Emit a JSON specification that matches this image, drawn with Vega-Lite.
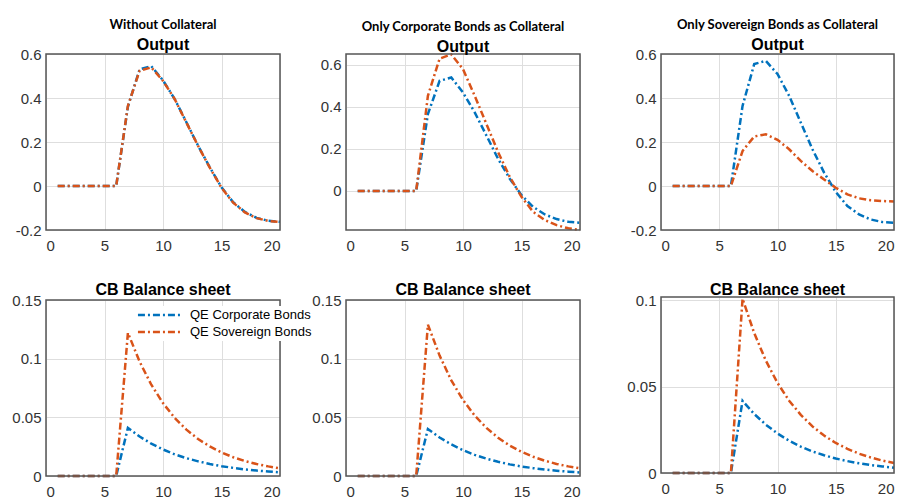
{
 "$schema": "https://vega.github.io/schema/vega-lite/v6.json",
 "background": "white",
 "padding": {"left": 10, "top": 19, "right": 0, "bottom": 0},
 "config": {
  "font": "Liberation Sans",
  "view": {"stroke": null},
  "axis": {"labelFont": "Liberation Sans", "labelFontSize": 15, "labelColor": "#333333", "ticks": false, "domain": false, "gridWidth": 1, "gridColor": "#dedede", "title": null},
  "axisX": {"labelPadding": 8},
  "axisY": {"labelPadding": 5},
  "title": {"font": "Liberation Sans", "fontSize": 16, "fontWeight": "bold", "color": "black", "anchor": "middle", "offset": -5, "subtitleFont": "Liberation Sans", "subtitleFontSize": 16, "subtitleFontWeight": "bold", "subtitleColor": "black"},
  "line": {"strokeWidth": 2.5, "strokeDash": [7, 3, 2, 3], "clip": true},
  "rect": {"filled": false, "stroke": "#555555", "strokeWidth": 1.5}
 },
 "datasets": {
  "frame": [{"k": 1}],
  "p1": [
   {"x":1,"s":"QE Corporate Bonds","y":0},{"x":2,"s":"QE Corporate Bonds","y":0},{"x":3,"s":"QE Corporate Bonds","y":0},{"x":4,"s":"QE Corporate Bonds","y":0},{"x":5,"s":"QE Corporate Bonds","y":0},{"x":6,"s":"QE Corporate Bonds","y":0},
   {"x":7,"s":"QE Corporate Bonds","y":0.36},{"x":8,"s":"QE Corporate Bonds","y":0.53},{"x":9,"s":"QE Corporate Bonds","y":0.545},{"x":10,"s":"QE Corporate Bonds","y":0.48},{"x":11,"s":"QE Corporate Bonds","y":0.395},{"x":12,"s":"QE Corporate Bonds","y":0.29},{"x":13,"s":"QE Corporate Bonds","y":0.183},{"x":14,"s":"QE Corporate Bonds","y":0.085},{"x":15,"s":"QE Corporate Bonds","y":-0.006},{"x":16,"s":"QE Corporate Bonds","y":-0.074},{"x":17,"s":"QE Corporate Bonds","y":-0.118},{"x":18,"s":"QE Corporate Bonds","y":-0.145},{"x":19,"s":"QE Corporate Bonds","y":-0.158},{"x":20,"s":"QE Corporate Bonds","y":-0.163},
   {"x":1,"s":"QE Sovereign Bonds","y":0},{"x":2,"s":"QE Sovereign Bonds","y":0},{"x":3,"s":"QE Sovereign Bonds","y":0},{"x":4,"s":"QE Sovereign Bonds","y":0},{"x":5,"s":"QE Sovereign Bonds","y":0},{"x":6,"s":"QE Sovereign Bonds","y":0},
   {"x":7,"s":"QE Sovereign Bonds","y":0.364},{"x":8,"s":"QE Sovereign Bonds","y":0.524},{"x":9,"s":"QE Sovereign Bonds","y":0.539},{"x":10,"s":"QE Sovereign Bonds","y":0.478},{"x":11,"s":"QE Sovereign Bonds","y":0.395},{"x":12,"s":"QE Sovereign Bonds","y":0.288},{"x":13,"s":"QE Sovereign Bonds","y":0.182},{"x":14,"s":"QE Sovereign Bonds","y":0.083},{"x":15,"s":"QE Sovereign Bonds","y":-0.008},{"x":16,"s":"QE Sovereign Bonds","y":-0.076},{"x":17,"s":"QE Sovereign Bonds","y":-0.12},{"x":18,"s":"QE Sovereign Bonds","y":-0.146},{"x":19,"s":"QE Sovereign Bonds","y":-0.159},{"x":20,"s":"QE Sovereign Bonds","y":-0.164}
  ],
  "p2": [
   {"x":1,"s":"QE Corporate Bonds","y":0},{"x":2,"s":"QE Corporate Bonds","y":0},{"x":3,"s":"QE Corporate Bonds","y":0},{"x":4,"s":"QE Corporate Bonds","y":0},{"x":5,"s":"QE Corporate Bonds","y":0},{"x":6,"s":"QE Corporate Bonds","y":0},
   {"x":7,"s":"QE Corporate Bonds","y":0.366},{"x":8,"s":"QE Corporate Bonds","y":0.524},{"x":9,"s":"QE Corporate Bonds","y":0.54},{"x":10,"s":"QE Corporate Bonds","y":0.469},{"x":11,"s":"QE Corporate Bonds","y":0.374},{"x":12,"s":"QE Corporate Bonds","y":0.264},{"x":13,"s":"QE Corporate Bonds","y":0.153},{"x":14,"s":"QE Corporate Bonds","y":0.058},{"x":15,"s":"QE Corporate Bonds","y":-0.02},{"x":16,"s":"QE Corporate Bonds","y":-0.076},{"x":17,"s":"QE Corporate Bonds","y":-0.112},{"x":18,"s":"QE Corporate Bonds","y":-0.134},{"x":19,"s":"QE Corporate Bonds","y":-0.147},{"x":20,"s":"QE Corporate Bonds","y":-0.152},
   {"x":1,"s":"QE Sovereign Bonds","y":0},{"x":2,"s":"QE Sovereign Bonds","y":0},{"x":3,"s":"QE Sovereign Bonds","y":0},{"x":4,"s":"QE Sovereign Bonds","y":0},{"x":5,"s":"QE Sovereign Bonds","y":0},{"x":6,"s":"QE Sovereign Bonds","y":0},
   {"x":7,"s":"QE Sovereign Bonds","y":0.453},{"x":8,"s":"QE Sovereign Bonds","y":0.63},{"x":9,"s":"QE Sovereign Bonds","y":0.65},{"x":10,"s":"QE Sovereign Bonds","y":0.58},{"x":11,"s":"QE Sovereign Bonds","y":0.453},{"x":12,"s":"QE Sovereign Bonds","y":0.319},{"x":13,"s":"QE Sovereign Bonds","y":0.185},{"x":14,"s":"QE Sovereign Bonds","y":0.066},{"x":15,"s":"QE Sovereign Bonds","y":-0.028},{"x":16,"s":"QE Sovereign Bonds","y":-0.1},{"x":17,"s":"QE Sovereign Bonds","y":-0.139},{"x":18,"s":"QE Sovereign Bonds","y":-0.163},{"x":19,"s":"QE Sovereign Bonds","y":-0.178},{"x":20,"s":"QE Sovereign Bonds","y":-0.186}
  ],
  "p3": [
   {"x":1,"s":"QE Corporate Bonds","y":0},{"x":2,"s":"QE Corporate Bonds","y":0},{"x":3,"s":"QE Corporate Bonds","y":0},{"x":4,"s":"QE Corporate Bonds","y":0},{"x":5,"s":"QE Corporate Bonds","y":0},{"x":6,"s":"QE Corporate Bonds","y":0},
   {"x":7,"s":"QE Corporate Bonds","y":0.364},{"x":8,"s":"QE Corporate Bonds","y":0.554},{"x":9,"s":"QE Corporate Bonds","y":0.569},{"x":10,"s":"QE Corporate Bonds","y":0.509},{"x":11,"s":"QE Corporate Bonds","y":0.41},{"x":12,"s":"QE Corporate Bonds","y":0.288},{"x":13,"s":"QE Corporate Bonds","y":0.167},{"x":14,"s":"QE Corporate Bonds","y":0.061},{"x":15,"s":"QE Corporate Bonds","y":-0.027},{"x":16,"s":"QE Corporate Bonds","y":-0.091},{"x":17,"s":"QE Corporate Bonds","y":-0.129},{"x":18,"s":"QE Corporate Bonds","y":-0.152},{"x":19,"s":"QE Corporate Bonds","y":-0.164},{"x":20,"s":"QE Corporate Bonds","y":-0.167},
   {"x":1,"s":"QE Sovereign Bonds","y":0},{"x":2,"s":"QE Sovereign Bonds","y":0},{"x":3,"s":"QE Sovereign Bonds","y":0},{"x":4,"s":"QE Sovereign Bonds","y":0},{"x":5,"s":"QE Sovereign Bonds","y":0},{"x":6,"s":"QE Sovereign Bonds","y":0},
   {"x":7,"s":"QE Sovereign Bonds","y":0.159},{"x":8,"s":"QE Sovereign Bonds","y":0.225},{"x":9,"s":"QE Sovereign Bonds","y":0.235},{"x":10,"s":"QE Sovereign Bonds","y":0.21},{"x":11,"s":"QE Sovereign Bonds","y":0.167},{"x":12,"s":"QE Sovereign Bonds","y":0.114},{"x":13,"s":"QE Sovereign Bonds","y":0.068},{"x":14,"s":"QE Sovereign Bonds","y":0.03},{"x":15,"s":"QE Sovereign Bonds","y":-0.008},{"x":16,"s":"QE Sovereign Bonds","y":-0.038},{"x":17,"s":"QE Sovereign Bonds","y":-0.056},{"x":18,"s":"QE Sovereign Bonds","y":-0.065},{"x":19,"s":"QE Sovereign Bonds","y":-0.068},{"x":20,"s":"QE Sovereign Bonds","y":-0.071}
  ],
  "p4": [
   {"x":1,"s":"QE Corporate Bonds","y":0},{"x":2,"s":"QE Corporate Bonds","y":0},{"x":3,"s":"QE Corporate Bonds","y":0},{"x":4,"s":"QE Corporate Bonds","y":0},{"x":5,"s":"QE Corporate Bonds","y":0},{"x":6,"s":"QE Corporate Bonds","y":0},
   {"x":7,"s":"QE Corporate Bonds","y":0.041},{"x":8,"s":"QE Corporate Bonds","y":0.0336},{"x":9,"s":"QE Corporate Bonds","y":0.0276},{"x":10,"s":"QE Corporate Bonds","y":0.0226},{"x":11,"s":"QE Corporate Bonds","y":0.0185},{"x":12,"s":"QE Corporate Bonds","y":0.0152},{"x":13,"s":"QE Corporate Bonds","y":0.0125},{"x":14,"s":"QE Corporate Bonds","y":0.0102},{"x":15,"s":"QE Corporate Bonds","y":0.0084},{"x":16,"s":"QE Corporate Bonds","y":0.0069},{"x":17,"s":"QE Corporate Bonds","y":0.0056},{"x":18,"s":"QE Corporate Bonds","y":0.0046},{"x":19,"s":"QE Corporate Bonds","y":0.0038},{"x":20,"s":"QE Corporate Bonds","y":0.0031},
   {"x":1,"s":"QE Sovereign Bonds","y":0},{"x":2,"s":"QE Sovereign Bonds","y":0},{"x":3,"s":"QE Sovereign Bonds","y":0},{"x":4,"s":"QE Sovereign Bonds","y":0},{"x":5,"s":"QE Sovereign Bonds","y":0},{"x":6,"s":"QE Sovereign Bonds","y":0},
   {"x":7,"s":"QE Sovereign Bonds","y":0.122},{"x":8,"s":"QE Sovereign Bonds","y":0.0975},{"x":9,"s":"QE Sovereign Bonds","y":0.0778},{"x":10,"s":"QE Sovereign Bonds","y":0.0621},{"x":11,"s":"QE Sovereign Bonds","y":0.0495},{"x":12,"s":"QE Sovereign Bonds","y":0.0395},{"x":13,"s":"QE Sovereign Bonds","y":0.0315},{"x":14,"s":"QE Sovereign Bonds","y":0.0252},{"x":15,"s":"QE Sovereign Bonds","y":0.0201},{"x":16,"s":"QE Sovereign Bonds","y":0.016},{"x":17,"s":"QE Sovereign Bonds","y":0.0128},{"x":18,"s":"QE Sovereign Bonds","y":0.0102},{"x":19,"s":"QE Sovereign Bonds","y":0.0082},{"x":20,"s":"QE Sovereign Bonds","y":0.0065}
  ],
  "p5": [
   {"x":1,"s":"QE Corporate Bonds","y":0},{"x":2,"s":"QE Corporate Bonds","y":0},{"x":3,"s":"QE Corporate Bonds","y":0},{"x":4,"s":"QE Corporate Bonds","y":0},{"x":5,"s":"QE Corporate Bonds","y":0},{"x":6,"s":"QE Corporate Bonds","y":0},
   {"x":7,"s":"QE Corporate Bonds","y":0.04},{"x":8,"s":"QE Corporate Bonds","y":0.0328},{"x":9,"s":"QE Corporate Bonds","y":0.0269},{"x":10,"s":"QE Corporate Bonds","y":0.022},{"x":11,"s":"QE Corporate Bonds","y":0.018},{"x":12,"s":"QE Corporate Bonds","y":0.0148},{"x":13,"s":"QE Corporate Bonds","y":0.0121},{"x":14,"s":"QE Corporate Bonds","y":0.0099},{"x":15,"s":"QE Corporate Bonds","y":0.0081},{"x":16,"s":"QE Corporate Bonds","y":0.0067},{"x":17,"s":"QE Corporate Bonds","y":0.0055},{"x":18,"s":"QE Corporate Bonds","y":0.0045},{"x":19,"s":"QE Corporate Bonds","y":0.0037},{"x":20,"s":"QE Corporate Bonds","y":0.003},
   {"x":1,"s":"QE Sovereign Bonds","y":0},{"x":2,"s":"QE Sovereign Bonds","y":0},{"x":3,"s":"QE Sovereign Bonds","y":0},{"x":4,"s":"QE Sovereign Bonds","y":0},{"x":5,"s":"QE Sovereign Bonds","y":0},{"x":6,"s":"QE Sovereign Bonds","y":0},
   {"x":7,"s":"QE Sovereign Bonds","y":0.129},{"x":8,"s":"QE Sovereign Bonds","y":0.1026},{"x":9,"s":"QE Sovereign Bonds","y":0.0815},{"x":10,"s":"QE Sovereign Bonds","y":0.0648},{"x":11,"s":"QE Sovereign Bonds","y":0.0515},{"x":12,"s":"QE Sovereign Bonds","y":0.041},{"x":13,"s":"QE Sovereign Bonds","y":0.0326},{"x":14,"s":"QE Sovereign Bonds","y":0.0259},{"x":15,"s":"QE Sovereign Bonds","y":0.0206},{"x":16,"s":"QE Sovereign Bonds","y":0.0164},{"x":17,"s":"QE Sovereign Bonds","y":0.013},{"x":18,"s":"QE Sovereign Bonds","y":0.0103},{"x":19,"s":"QE Sovereign Bonds","y":0.0082},{"x":20,"s":"QE Sovereign Bonds","y":0.0065}
  ],
  "p6": [
   {"x":1,"s":"QE Corporate Bonds","y":0},{"x":2,"s":"QE Corporate Bonds","y":0},{"x":3,"s":"QE Corporate Bonds","y":0},{"x":4,"s":"QE Corporate Bonds","y":0},{"x":5,"s":"QE Corporate Bonds","y":0},{"x":6,"s":"QE Corporate Bonds","y":0},
   {"x":7,"s":"QE Corporate Bonds","y":0.0418},{"x":8,"s":"QE Corporate Bonds","y":0.0342},{"x":9,"s":"QE Corporate Bonds","y":0.028},{"x":10,"s":"QE Corporate Bonds","y":0.0229},{"x":11,"s":"QE Corporate Bonds","y":0.0187},{"x":12,"s":"QE Corporate Bonds","y":0.0153},{"x":13,"s":"QE Corporate Bonds","y":0.0125},{"x":14,"s":"QE Corporate Bonds","y":0.0103},{"x":15,"s":"QE Corporate Bonds","y":0.0084},{"x":16,"s":"QE Corporate Bonds","y":0.0069},{"x":17,"s":"QE Corporate Bonds","y":0.0056},{"x":18,"s":"QE Corporate Bonds","y":0.0046},{"x":19,"s":"QE Corporate Bonds","y":0.0038},{"x":20,"s":"QE Corporate Bonds","y":0.0031},
   {"x":1,"s":"QE Sovereign Bonds","y":0},{"x":2,"s":"QE Sovereign Bonds","y":0},{"x":3,"s":"QE Sovereign Bonds","y":0},{"x":4,"s":"QE Sovereign Bonds","y":0},{"x":5,"s":"QE Sovereign Bonds","y":0},{"x":6,"s":"QE Sovereign Bonds","y":0},
   {"x":7,"s":"QE Sovereign Bonds","y":0.101},{"x":8,"s":"QE Sovereign Bonds","y":0.0811},{"x":9,"s":"QE Sovereign Bonds","y":0.0651},{"x":10,"s":"QE Sovereign Bonds","y":0.0522},{"x":11,"s":"QE Sovereign Bonds","y":0.0419},{"x":12,"s":"QE Sovereign Bonds","y":0.0337},{"x":13,"s":"QE Sovereign Bonds","y":0.027},{"x":14,"s":"QE Sovereign Bonds","y":0.0217},{"x":15,"s":"QE Sovereign Bonds","y":0.0174},{"x":16,"s":"QE Sovereign Bonds","y":0.014},{"x":17,"s":"QE Sovereign Bonds","y":0.0112},{"x":18,"s":"QE Sovereign Bonds","y":0.009},{"x":19,"s":"QE Sovereign Bonds","y":0.0072},{"x":20,"s":"QE Sovereign Bonds","y":0.0058}
  ]
 },
 "spacing": -4,
 "resolve": {"scale": {"color": "independent"}},
 "hconcat": [
  {
   "spacing": 29,
   "resolve": {"scale": {"color": "independent"}},
   "vconcat": [
    {
     "width": 234, "height": 176,
     "title": {"text": "Without Collateral", "subtitle": "Output", "font": "Lato", "fontSize": 13, "subtitlePadding": 5, "offset": -6},
     "layer": [
      {
       "data": {"name": "p1"},
       "mark": {"type": "line"},
       "encoding": {
        "x": {"field": "x", "type": "quantitative", "scale": {"domain": [0, 20], "nice": false}, "axis": {"values": [0, 5, 10, 15, 20], "labelExpr": "'' + datum.value"}},
        "y": {"field": "y", "type": "quantitative", "scale": {"domain": [-0.2, 0.6], "nice": false, "zero": false}, "axis": {"values": [-0.2, 0, 0.2, 0.4, 0.6], "labelExpr": "'' + datum.value", "minExtent": 36}},
        "color": {"field": "s", "type": "nominal", "scale": {"domain": ["QE Corporate Bonds", "QE Sovereign Bonds"], "range": ["#0072BD", "#D95319"]}, "legend": null}
       }
      },
      {
       "data": {"name": "frame"},
       "mark": {"type": "rect"},
       "encoding": {"x": {"datum": 0}, "x2": {"datum": 20}, "y": {"datum": -0.2}, "y2": {"datum": 0.6}}
      }
     ]
    },
    {
     "width": 234, "height": 176,
     "title": {"text": "CB Balance sheet"},
     "layer": [
      {
       "data": {"name": "p4"},
       "mark": {"type": "line"},
       "encoding": {
        "x": {"field": "x", "type": "quantitative", "scale": {"domain": [0, 20], "nice": false}, "axis": {"values": [0, 5, 10, 15, 20], "labelExpr": "'' + datum.value"}},
        "y": {"field": "y", "type": "quantitative", "scale": {"domain": [0, 0.15], "nice": false, "zero": false}, "axis": {"values": [0, 0.05, 0.1, 0.15], "labelExpr": "'' + datum.value", "minExtent": 36}},
        "color": {"field": "s", "type": "nominal", "scale": {"domain": ["QE Corporate Bonds", "QE Sovereign Bonds"], "range": ["#0072BD", "#D95319"]},
         "legend": {"orient": "none", "legendX": 100, "legendY": 6, "title": null, "symbolType": "M-3.1,0H4.9", "symbolSize": 121, "symbolStrokeWidth": 2.5, "symbolDash": [6, 2.5, 2, 2.5], "labelFont": "Liberation Sans", "labelFontSize": 13, "labelColor": "black", "padding": 2, "fillColor": "white", "rowPadding": 3, "labelOffset": 28}}
       }
      },
      {
       "data": {"name": "frame"},
       "mark": {"type": "rect"},
       "encoding": {"x": {"datum": 0}, "x2": {"datum": 20}, "y": {"datum": 0}, "y2": {"datum": 0.15}}
      }
     ]
    }
   ]
  },
  {
   "spacing": 29,
   "resolve": {"scale": {"color": "independent"}},
   "vconcat": [
    {
     "width": 234, "height": 176,
     "title": {"text": "Only Corporate Bonds as Collateral", "subtitle": "Output", "font": "Lato", "fontSize": 13, "subtitlePadding": 5, "offset": -6},
     "layer": [
      {
       "data": {"name": "p2"},
       "mark": {"type": "line"},
       "encoding": {
        "x": {"field": "x", "type": "quantitative", "scale": {"domain": [0, 20], "nice": false}, "axis": {"values": [0, 5, 10, 15, 20], "labelExpr": "'' + datum.value"}},
        "y": {"field": "y", "type": "quantitative", "scale": {"domain": [-0.186, 0.652], "nice": false, "zero": false}, "axis": {"values": [0, 0.2, 0.4, 0.6], "labelExpr": "'' + datum.value", "minExtent": 36}},
        "color": {"field": "s", "type": "nominal", "scale": {"domain": ["QE Corporate Bonds", "QE Sovereign Bonds"], "range": ["#0072BD", "#D95319"]}, "legend": null}
       }
      },
      {
       "data": {"name": "frame"},
       "mark": {"type": "rect"},
       "encoding": {"x": {"datum": 0}, "x2": {"datum": 20}, "y": {"datum": -0.186}, "y2": {"datum": 0.652}}
      }
     ]
    },
    {
     "width": 234, "height": 176,
     "title": {"text": "CB Balance sheet"},
     "layer": [
      {
       "data": {"name": "p5"},
       "mark": {"type": "line"},
       "encoding": {
        "x": {"field": "x", "type": "quantitative", "scale": {"domain": [0, 20], "nice": false}, "axis": {"values": [0, 5, 10, 15, 20], "labelExpr": "'' + datum.value"}},
        "y": {"field": "y", "type": "quantitative", "scale": {"domain": [0, 0.15], "nice": false, "zero": false}, "axis": {"values": [0, 0.05, 0.1, 0.15], "labelExpr": "'' + datum.value", "minExtent": 36}},
        "color": {"field": "s", "type": "nominal", "scale": {"domain": ["QE Corporate Bonds", "QE Sovereign Bonds"], "range": ["#0072BD", "#D95319"]}, "legend": null}
       }
      },
      {
       "data": {"name": "frame"},
       "mark": {"type": "rect"},
       "encoding": {"x": {"datum": 0}, "x2": {"datum": 20}, "y": {"datum": 0}, "y2": {"datum": 0.15}}
      }
     ]
    }
   ]
  },
  {
   "spacing": 29,
   "resolve": {"scale": {"color": "independent"}},
   "vconcat": [
    {
     "width": 233, "height": 176,
     "title": {"text": "Only Sovereign Bonds as Collateral", "subtitle": "Output", "font": "Lato", "fontSize": 13, "subtitlePadding": 5, "offset": -6},
     "layer": [
      {
       "data": {"name": "p3"},
       "mark": {"type": "line"},
       "encoding": {
        "x": {"field": "x", "type": "quantitative", "scale": {"domain": [0, 20], "nice": false}, "axis": {"values": [0, 5, 10, 15, 20], "labelExpr": "'' + datum.value"}},
        "y": {"field": "y", "type": "quantitative", "scale": {"domain": [-0.2, 0.6], "nice": false, "zero": false}, "axis": {"values": [-0.2, 0, 0.2, 0.4, 0.6], "labelExpr": "'' + datum.value", "minExtent": 80}},
        "color": {"field": "s", "type": "nominal", "scale": {"domain": ["QE Corporate Bonds", "QE Sovereign Bonds"], "range": ["#0072BD", "#D95319"]}, "legend": null}
       }
      },
      {
       "data": {"name": "frame"},
       "mark": {"type": "rect"},
       "encoding": {"x": {"datum": 0}, "x2": {"datum": 20}, "y": {"datum": -0.2}, "y2": {"datum": 0.6}}
      }
     ]
    },
    {
     "width": 233, "height": 176,
     "title": {"text": "CB Balance sheet"},
     "layer": [
      {
       "data": {"name": "p6"},
       "mark": {"type": "line"},
       "encoding": {
        "x": {"field": "x", "type": "quantitative", "scale": {"domain": [0, 20], "nice": false}, "axis": {"values": [0, 5, 10, 15, 20], "labelExpr": "'' + datum.value"}},
        "y": {"field": "y", "type": "quantitative", "scale": {"domain": [0, 0.102], "nice": false, "zero": false}, "axis": {"values": [0, 0.05, 0.1], "labelExpr": "'' + datum.value", "minExtent": 80}},
        "color": {"field": "s", "type": "nominal", "scale": {"domain": ["QE Corporate Bonds", "QE Sovereign Bonds"], "range": ["#0072BD", "#D95319"]}, "legend": null}
       }
      },
      {
       "data": {"name": "frame"},
       "mark": {"type": "rect"},
       "encoding": {"x": {"datum": 0}, "x2": {"datum": 20}, "y": {"datum": 0}, "y2": {"datum": 0.102}}
      }
     ]
    }
   ]
  }
 ]
}
